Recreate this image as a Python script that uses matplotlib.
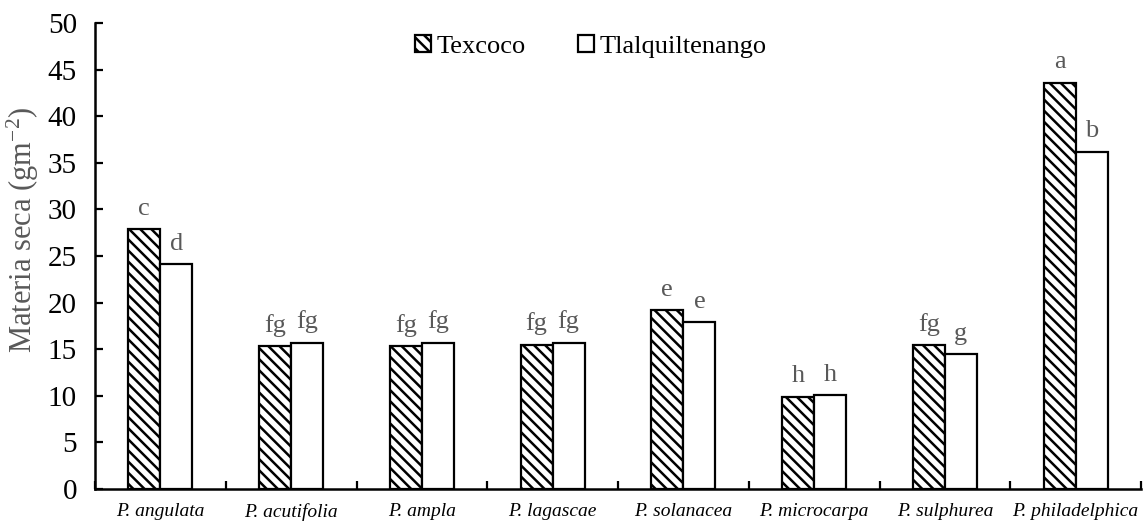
import matplotlib
matplotlib.use("Agg")
import matplotlib.pyplot as plt
import numpy as np

categories = ["P. angulata", "P. acutifolia", "P. ampla", "P. lagascae",
              "P. solanacea", "P. microcarpa", "P. sulphurea", "P. philadelphica"]
texcoco = [27.9, 15.3, 15.3, 15.5, 19.2, 9.9, 15.4, 43.6]
tlalquiltenango = [24.1, 15.7, 15.7, 15.7, 17.9, 10.1, 14.5, 36.2]
letters_tex = ["c", "fg", "fg", "fg", "e", "h", "fg", "a"]
letters_tla = ["d", "fg", "fg", "fg", "e", "h", "g", "b"]

plt.rcParams['font.family'] = ['Liberation Serif', 'DejaVu Serif']
plt.rcParams['mathtext.fontset'] = 'custom'
plt.rcParams['mathtext.rm'] = 'Liberation Serif'
plt.rcParams['mathtext.it'] = 'Liberation Serif:italic'
plt.rcParams['hatch.linewidth'] = 1.8

fig = plt.figure(figsize=(11.46, 5.23), dpi=100)
ax = fig.add_axes([95/1146, 1-489/523, (1141-95)/1146, (489-23)/523])

x = np.arange(len(categories))
w = 0.245
b1 = ax.bar(x - w/2, texcoco, w, facecolor='white', edgecolor='black',
            hatch='\\\\\\', linewidth=1.6, label='Texcoco')
b2 = ax.bar(x + w/2, tlalquiltenango, w, facecolor='white', edgecolor='black',
            linewidth=1.6, label='Tlalquiltenango')

grey = '#595959'
for xi, v, t in zip(x, texcoco, letters_tex):
    ax.text(xi - w/2, v + 1.0, t, ha='center', va='bottom', color=grey, fontsize=19)
for xi, v, t in zip(x, tlalquiltenango, letters_tla):
    ax.text(xi + w/2, v + 1.0, t, ha='center', va='bottom', color=grey, fontsize=19)

ax.set_xlim(-0.5, len(categories) - 0.5)
ax.set_ylim(0, 50)
ax.set_yticks(np.arange(0, 51, 5))
ax.set_xticks(x)
ax.set_xticklabels(categories, fontstyle='italic', fontsize=14)
ax.set_xticks(np.arange(-0.5, len(categories), 1), minor=True)
ax.tick_params(axis='x', which='major', length=0, pad=10)
ax.tick_params(axis='x', which='minor', direction='in', length=6, width=1.6)
ax.tick_params(axis='y', direction='in', length=6, width=1.6, labelsize=21, pad=13)

for s in ['top', 'right']:
    ax.spines[s].set_visible(False)
for s in ['left', 'bottom']:
    ax.spines[s].set_linewidth(1.8)

ax.set_ylabel("Materia seca (gm$^{-2}$)", fontsize=22, color=grey)
ax.yaxis.set_label_coords(-0.052, 0.555)

leg = ax.legend(loc='upper center', bbox_to_anchor=(0.474, 1.025), ncol=2, frameon=False,
                fontsize=19, handlelength=0.6, handleheight=0.6, handletextpad=0.2,
                columnspacing=2.0)

fig.savefig("out.png", dpi=100)
